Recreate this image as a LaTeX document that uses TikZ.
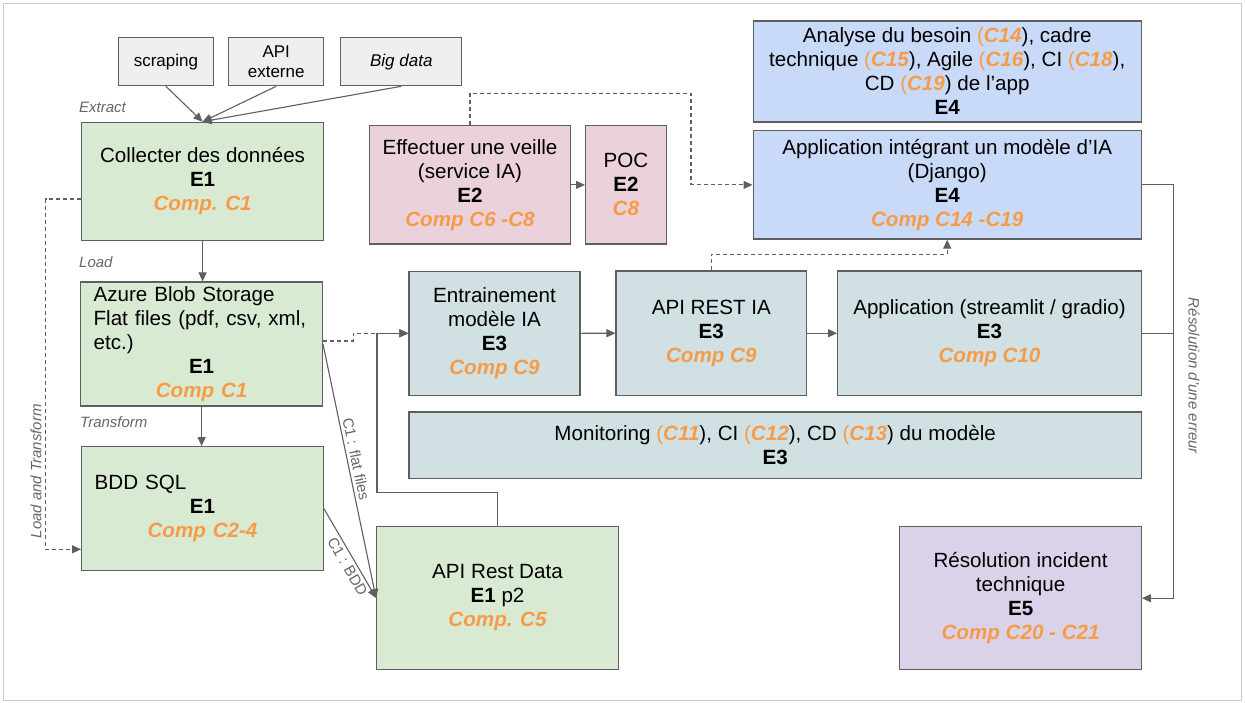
\documentclass[tikz,border=0pt]{standalone}
\usepackage{fontspec}
\setmainfont{Liberation Sans}
\usetikzlibrary{arrows.meta,calc}
\definecolor{orangec}{HTML}{F79B47}
\definecolor{linec}{HTML}{5F5F5F}
\definecolor{lblc}{HTML}{666666}
\definecolor{framec}{HTML}{CCCCCC}
\definecolor{gfill}{HTML}{D9EAD3}
\definecolor{pfill}{HTML}{EAD1DC}
\definecolor{tfill}{HTML}{D0E0E3}
\definecolor{bfill}{HTML}{C9DAF8}
\definecolor{vfill}{HTML}{D9D2E9}
\definecolor{sfill}{HTML}{EFEFEF}
\newcommand\mainfs{\fontsize{20.6}{24}\selectfont}
\newcommand\smallfs{\fontsize{17}{20}\selectfont}
\newcommand\lblfs{\fontsize{15}{18}\selectfont}
\newcommand\compx[1]{\textcolor{orangec}{\bfseries\itshape #1}}
\newcommand\opar{\textcolor{orangec}{(}}
\begin{document}
\begin{tikzpicture}[x=1pt,y=-1pt,
  box/.style={draw=linec, line width=1.2pt, inner sep=0pt, align=center, font=\mainfs},
  srcbox/.style={draw=linec, line width=1.2pt, inner sep=0pt, align=center, font=\smallfs, fill=sfill, minimum height=48pt},
  conn/.style={draw=linec, line width=1.1pt, -{Triangle[length=9pt,width=8pt]}},
  plainconn/.style={draw=linec, line width=1.1pt},
  dconn/.style={draw=linec, line width=1.1pt, dash pattern=on 4pt off 3pt, -{Triangle[length=9pt,width=8pt]}},
  lbl/.style={text=lblc, font=\lblfs\itshape, inner sep=0pt},
  elbl/.style={text=lblc, font=\lblfs, inner sep=3pt}
]
\useasboundingbox (0,0) rectangle (1245,702);
\draw[framec, line width=1pt] (3.5,3.5) rectangle (1241,700);

% source boxes
\node[srcbox, minimum width=95.3pt] (scrap) at (165.9,61.7) {scraping};
\node[srcbox, minimum width=95.3pt] (apiext) at (276.2,61.7) {API\\externe};
\node[srcbox, minimum width=121pt] (bigdata) at (401.3,61.7) {\itshape Big data};

% E1 column
\node[box, fill=gfill, minimum width=241.6pt, minimum height=118.4pt] (collect) at (202.6,181.5)
  {Collecter des données\\\textbf{E1}\\\compx{Comp. C1}};
\node[box, fill=gfill, minimum width=241.6pt, minimum height=124pt, text width=216pt, align=left] (azure) at (201.6,344)
  {Azure Blob Storage\\Flat files (pdf, csv, xml,\\etc.)\par\centering\textbf{E1}\par\compx{Comp C1}\par};
\node[box, fill=gfill, minimum width=241.7pt, minimum height=124pt, text width=215.6pt, align=left] (bdd) at (202.5,508.7)
  {BDD SQL\par\centering\textbf{E1}\par\compx{Comp C2-4}\par};
\node[box, fill=gfill, minimum width=241.7pt, minimum height=142.6pt] (apidata) at (497.5,598)
  {API Rest Data\\\textbf{E1} p2\\\compx{Comp. C5}};

% E2
\node[box, fill=pfill, minimum width=200.5pt, minimum height=118.3pt] (veille) at (470,184.9)
  {Effectuer une veille\\(service IA)\\\textbf{E2}\\\compx{Comp C6 -C8}};
\node[box, fill=pfill, minimum width=80.6pt, minimum height=118.3pt] (poc) at (625.9,184.9)
  {POC\\\textbf{E2}\\\compx{C8}};

% E4
\node[box, fill=bfill, minimum width=388.2pt, minimum height=101pt] (analyse) at (947.2,71.5)
  {Analyse du besoin \opar\compx{C14}), cadre\\technique \opar\compx{C15}), Agile \opar\compx{C16}), CI \opar\compx{C18}),\\CD \opar\compx{C19}) de l’app\\\textbf{E4}};
\node[box, fill=bfill, minimum width=388.2pt, minimum height=108.3pt] (appia) at (947.2,184.9)
  {Application intégrant un modèle d’IA\\(Django)\\\textbf{E4}\\\compx{Comp C14 -C19}};

% E3
\node[box, fill=tfill, minimum width=171pt, minimum height=124pt] (train) at (494.5,333.3)
  {Entrainement\\modèle IA\\\textbf{E3}\\\compx{Comp C9}};
\node[box, fill=tfill, minimum width=190.5pt, minimum height=124.3pt] (apiia) at (711.3,333.2)
  {API REST IA\\\textbf{E3}\\\compx{Comp C9}};
\node[box, fill=tfill, minimum width=303.7pt, minimum height=124.3pt] (appstream) at (989.5,333.2)
  {Application (streamlit / gradio)\\\textbf{E3}\\\compx{Comp C10}};
\node[box, fill=tfill, minimum width=732.3pt, minimum height=66.3pt] (monitor) at (775.2,445.2)
  {Monitoring \opar\compx{C11}), CI \opar\compx{C12}), CD \opar\compx{C13}) du modèle\\\textbf{E3}};

% E5
\node[box, fill=vfill, minimum width=241.5pt, minimum height=143pt] (resol) at (1020.6,598.2)
  {Résolution incident\\technique\\\textbf{E5}\\\compx{Comp C20 - C21}};

% labels
\node[lbl, anchor=west] (lextract) at (79,107.7) {Extract};
\node[lbl, anchor=west] (lload) at (79,261.7) {Load};
\node[lbl, anchor=west] (ltransform) at (80,421.7) {Transform};
\node[lbl, rotate=90] (llt) at (36,471.3) {Load and Transform};
\node[lbl, rotate=-90] (lres) at (1194,375.8) {Résolution d’une erreur};

% connectors
\draw[conn] (scrap.south) -- (collect.north);
\draw[conn] (apiext.south) -- (collect.north);
\draw[conn] (bigdata.south) -- (collect.north);
\draw[conn] (collect.south) -- (collect.south |- azure.north);
\draw[conn] (azure.south) -- (azure.south |- bdd.north);
\draw[dconn] ([yshift=-17.5pt]collect.west) -- ++(-35.5,0) |- ([yshift=-40.6pt]bdd.west);
\draw[dconn] ([yshift=3pt]azure.east) -- ++(30.3,0) |- (train.west);
\draw[conn] (apidata.north) -- ++(0,-33.4) -| (377,333.3) -- (train.west);
\draw[conn] (azure.east) -- node[pos=0.46, sloped, above, elbl] {C1 : flat files} (apidata.west);
\draw[conn] (bdd.east) -- node[pos=0.6, sloped, below, elbl] {C1 : BDD} (apidata.west);
\draw[conn] (veille.east) -- (poc.west);
\draw[dconn] (veille.north) |- (691,93.3) |- (appia.west);
\draw[conn] (train.east) -- (apiia.west);
\draw[conn] (apiia.east) -- (appstream.west);
\draw[dconn] (apiia.north) -- ++(0,-16) -| (appia.south);
\coordinate (rail) at (1173.2,184.9);
\draw[conn] (appia.east) -- (rail) |- (resol.east);
\draw[plainconn] (appstream.east) -- (appstream.east -| rail);
\end{tikzpicture}
\end{document}
